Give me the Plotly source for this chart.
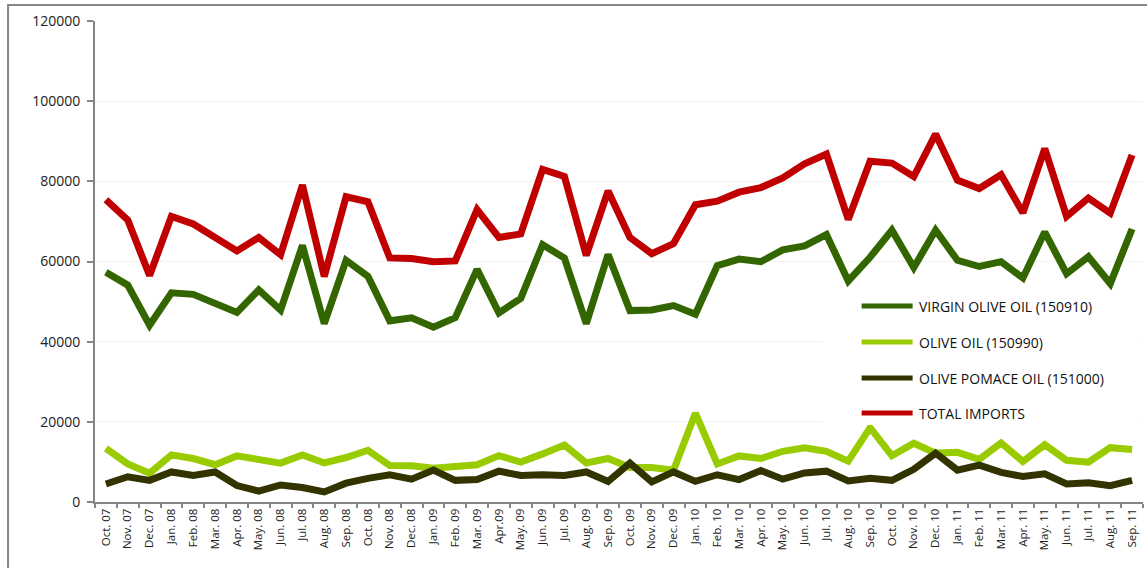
import plotly.graph_objects as go

months = [
    "Oct. 07", "Nov. 07", "Dec. 07",
    "Jan. 08", "Feb. 08", "Mar. 08", "Apr. 08", "May. 08", "Jun. 08",
    "Jul. 08", "Aug. 08", "Sep. 08", "Oct. 08", "Nov. 08", "Dec. 08",
    "Jan. 09", "Feb. 09", "Mar. 09", "Apr.09", "May. 09", "Jun. 09",
    "Jul. 09", "Aug. 09", "Sep. 09", "Oct. 09", "Nov. 09", "Dec. 09",
    "Jan. 10", "Feb. 10", "Mar. 10", "Apr. 10", "May. 10", "Jun. 10",
    "Jul. 10", "Aug. 10", "Sep. 10", "Oct. 10", "Nov. 10", "Dec. 10",
    "Jan. 11", "Feb. 11", "Mar. 11", "Apr. 11", "May. 11", "Jun. 11",
    "Jul. 11", "Aug. 11", "Sep. 11",
]

virgin_olive_oil = [
    57300, 54100, 44100, 52200, 51800, 49500, 47300, 52900, 47900,
    64000, 44500, 60300, 56300, 45200, 45950, 43600, 46000, 58050,
    47200, 50800, 64200, 60850, 44500, 61750, 47750, 47900, 49000,
    46850, 58950, 60600, 59950, 62900, 63900, 66700, 55150, 61050,
    67800, 58500, 67800, 60300, 58750, 59950, 55900, 67350, 56950,
    61200, 54500, 68100,
]

olive_oil = [
    13400, 9500, 7200, 11750, 10850, 9300, 11500, 10400, 9700,
    11750, 9750, 11100, 12900, 9100, 9050, 8400, 8770, 9300,
    11570, 9950, 12000, 14200, 9750, 10850, 8600, 8600, 7950,
    22150, 9500, 11500, 10850, 12650, 13550, 12650, 10200, 18550,
    11550, 14650, 12200, 12400, 10650, 14750, 10100, 14300, 10400,
    9950, 13550, 13100,
]

olive_pomace_oil = [
    4500, 6300, 5400, 7500, 6600, 7500, 4100, 2700, 4250,
    3600, 2500, 4700, 5900, 6800, 5700, 7950, 5400, 5600,
    7700, 6600, 6800, 6600, 7500, 5150, 9700, 5000, 7500,
    5150, 6800, 5600, 7850, 5700, 7250, 7700, 5250, 5900,
    5400, 8150, 12200, 7950, 9200, 7400, 6350, 7050, 4500,
    4800, 4050, 5400,
]

total_imports = [
    75400, 70350, 56500, 71250, 69350, 66000, 62650, 66000, 61700,
    79100, 56250, 76150, 74900, 60900, 60750, 59950, 60150, 72970,
    66000, 66900, 83000, 81200, 61500, 77600, 66000, 61950, 64470,
    74150, 75050, 77300, 78450, 80850, 84350, 86800, 70500, 85000,
    84550, 81200, 91800, 80300, 78200, 81650, 72150, 88150, 71250,
    75800, 72050, 86550,
]

series_names = [
    "VIRGIN OLIVE OIL (150910)",
    "OLIVE OIL (150990)",
    "OLIVE POMACE OIL (151000)",
    "TOTAL IMPORTS",
]
series_values = [virgin_olive_oil, olive_oil, olive_pomace_oil, total_imports]
series_colors = ["#336600", "#99CC00", "#333300", "#C00000"]

y_ticks = [0, 20000, 40000, 60000, 80000, 100000, 120000]

W, H = 1147, 568
M_L, M_R, M_T, M_B = 95, 3.5, 21, 66
plot_w = W - M_L - M_R
plot_h = H - M_T - M_B


def px_x(px):
    return (px - M_L) / plot_w


def px_y(py):
    return (H - M_B - py) / plot_h


fig = go.Figure()
for name, vals, col in zip(series_names, series_values, series_colors):
    fig.add_trace(go.Scatter(
        x=months, y=vals, name=name, mode="lines",
        line=dict(color=col, width=7, shape="linear"),
        showlegend=False,
    ))

shapes = []
annotations = []

# outer chart frame
shapes.append(dict(
    type="rect", xref="paper", yref="paper",
    x0=px_x(8), x1=px_x(W + 10), y0=px_y(H + 10), y1=px_y(5),
    line=dict(color="#878787", width=2), fillcolor="rgba(0,0,0,0)",
    layer="below",
))

# legend panel
shapes.append(dict(
    type="rect", xref="paper", yref="paper",
    x0=px_x(822), x1=px_x(W - 4), y0=px_y(425), y1=px_y(290),
    line=dict(width=0), fillcolor="white", layer="above",
))
legend_rows = [306, 342, 378, 413]
for name, col, ry in zip(series_names, series_colors, legend_rows):
    shapes.append(dict(
        type="line", xref="paper", yref="paper",
        x0=px_x(862), x1=px_x(913), y0=px_y(ry), y1=px_y(ry),
        line=dict(color=col, width=5), layer="above",
    ))
    annotations.append(dict(
        xref="paper", yref="paper", x=px_x(917), y=px_y(ry),
        xanchor="left", yanchor="middle", showarrow=False,
        text=name, font=dict(family="Open Sans", size=14, color="#111111"),
    ))

fig.update_layout(
    width=W, height=H,
    margin=dict(l=M_L, r=M_R, t=M_T, b=M_B, pad=0),
    paper_bgcolor="white", plot_bgcolor="white",
    shapes=shapes, annotations=annotations,
    xaxis=dict(
        type="category", range=[-0.5, len(months) - 0.5],
        tickangle=-90, tickson="boundaries",
        ticks="outside", ticklen=4, tickcolor="#868686", tickwidth=1.5,
        showline=True, linecolor="#868686", linewidth=2,
        showgrid=False, zeroline=False,
        tickfont=dict(family="Open Sans", size=11.5, color="#222222"),
    ),
    yaxis=dict(
        range=[0, 120000], tickvals=y_ticks,
        ticktext=[str(v) for v in y_ticks],
        ticks="outside", ticklen=6, tickcolor="#868686", tickwidth=1.5,
        showline=True, linecolor="#868686", linewidth=2,
        showgrid=True, gridcolor="#F2F2F2", gridwidth=1,
        zeroline=False, ticklabelstandoff=4,
        tickfont=dict(family="Open Sans", size=14, color="#222222"),
    ),
)

fig.write_html("out.html")
